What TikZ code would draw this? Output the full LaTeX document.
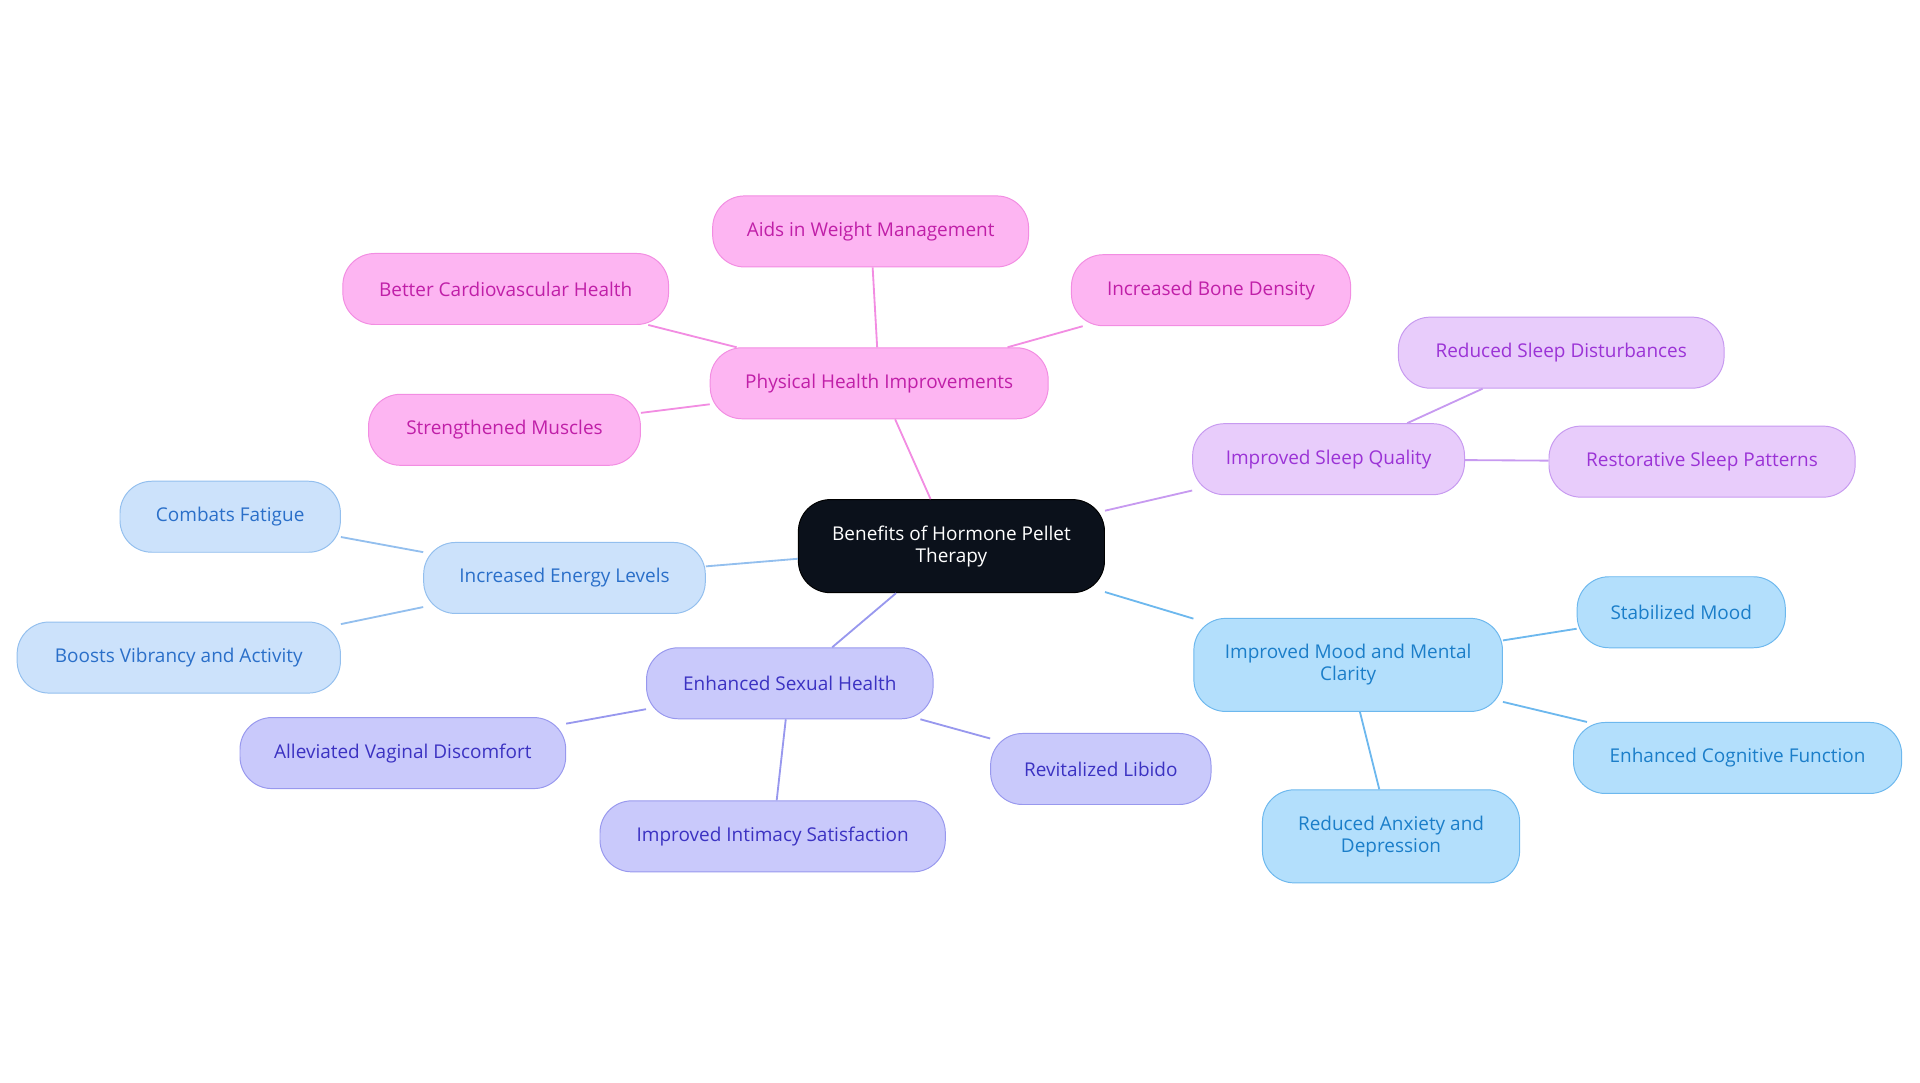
\documentclass[tikz,border=0pt]{standalone}
\usepackage{fontspec}
\setmainfont{Open Sans}
\begin{document}
\begin{tikzpicture}[x=1pt,y=-1pt,
 box/.style={rounded corners=26pt,line width=0.8pt,align=center,inner sep=0pt,font=\fontsize{15.5}{18}\selectfont},
 pk/.style={box,fill=pkF,draw=pkD,text=pkT},
 vi/.style={box,fill=viF,draw=viD,text=viT},
 lb/.style={box,fill=lbF,draw=lbD,text=lbT},
 ind/.style={box,fill=inF,draw=inD,text=inT},
 sk/.style={box,fill=skF,draw=skD,text=skT},
 e/.style={line width=1.5pt}]
\definecolor{pkF}{HTML}{FDB5F2}\definecolor{pkD}{HTML}{F28DE2}\definecolor{pkT}{HTML}{C01FA8}
\definecolor{viF}{HTML}{E8CCFB}\definecolor{viD}{HTML}{C79AF0}\definecolor{viT}{HTML}{9B33D6}
\definecolor{lbF}{HTML}{CCE2FB}\definecolor{lbD}{HTML}{93BFEE}\definecolor{lbT}{HTML}{2A6FC9}
\definecolor{inF}{HTML}{C9C9FB}\definecolor{inD}{HTML}{9898EE}\definecolor{inT}{HTML}{3B32C2}
\definecolor{skF}{HTML}{B3DFFC}\definecolor{skD}{HTML}{6DB8EE}\definecolor{skT}{HTML}{1B7EC9}
\definecolor{dk}{HTML}{0B111B}
\useasboundingbox (0,0) rectangle (1568,884);
\node[box,fill=dk,draw=black,text=white,minimum width=250pt,minimum height=76pt] (c) at (777,446) {Benefits of Hormone Pellet\\Therapy};
\node[pk,minimum width=276pt,minimum height=58pt] (ph) at (718,313) {Physical Health Improvements};
\node[pk,minimum width=258pt,minimum height=58pt] (ph1) at (711,189) {Aids in Weight Management};
\node[pk,minimum width=266pt,minimum height=58pt] (ph2) at (413,236) {Better Cardiovascular Health};
\node[pk,minimum width=228pt,minimum height=58pt] (ph3) at (989,237) {Increased Bone Density};
\node[pk,minimum width=222pt,minimum height=58pt] (ph4) at (412,351) {Strengthened Muscles};
\node[vi,minimum width=222pt,minimum height=58pt] (sl) at (1085,375) {Improved Sleep Quality};
\node[vi,minimum width=266pt,minimum height=58pt] (sl1) at (1275,288) {Reduced Sleep Disturbances};
\node[vi,minimum width=250pt,minimum height=58pt] (sl2) at (1390,377) {Restorative Sleep Patterns};
\node[lb,minimum width=230pt,minimum height=58pt] (en) at (461,472) {Increased Energy Levels};
\node[lb,minimum width=180pt,minimum height=58pt] (en1) at (188,422) {Combats Fatigue};
\node[lb,minimum width=264pt,minimum height=58pt] (en2) at (146,537) {Boosts Vibrancy and Activity};
\node[ind,minimum width=234pt,minimum height=58pt] (sx) at (645,558) {Enhanced Sexual Health};
\node[ind,minimum width=266pt,minimum height=58pt] (sx1) at (329,615) {Alleviated Vaginal Discomfort};
\node[ind,minimum width=282pt,minimum height=58pt] (sx2) at (631,683) {Improved Intimacy Satisfaction};
\node[ind,minimum width=180pt,minimum height=58pt] (sx3) at (899,628) {Revitalized Libido};
\node[sk,minimum width=252pt,minimum height=76pt] (md) at (1101,543) {Improved Mood and Mental\\Clarity};
\node[sk,minimum width=170pt,minimum height=58pt] (md1) at (1373,500) {Stabilized Mood};
\node[sk,minimum width=268pt,minimum height=58pt] (md2) at (1419,619) {Enhanced Cognitive Function};
\node[sk,minimum width=210pt,minimum height=76pt] (md3) at (1136,683) {Reduced Anxiety and\\Depression};
\draw[e,pkD] (c) -- (ph); \draw[e,pkD] (ph) -- (ph1); \draw[e,pkD] (ph) -- (ph2);
\draw[e,pkD] (ph) -- (ph3); \draw[e,pkD] (ph) -- (ph4);
\draw[e,viD] (c) -- (sl); \draw[e,viD] (sl) -- (sl1); \draw[e,viD] (sl) -- (sl2);
\draw[e,lbD] (c) -- (en); \draw[e,lbD] (en) -- (en1); \draw[e,lbD] (en) -- (en2);
\draw[e,inD] (c) -- (sx); \draw[e,inD] (sx) -- (sx1); \draw[e,inD] (sx) -- (sx2); \draw[e,inD] (sx) -- (sx3);
\draw[e,skD] (c) -- (md); \draw[e,skD] (md) -- (md1); \draw[e,skD] (md) -- (md2); \draw[e,skD] (md) -- (md3);
\end{tikzpicture}
\end{document}
